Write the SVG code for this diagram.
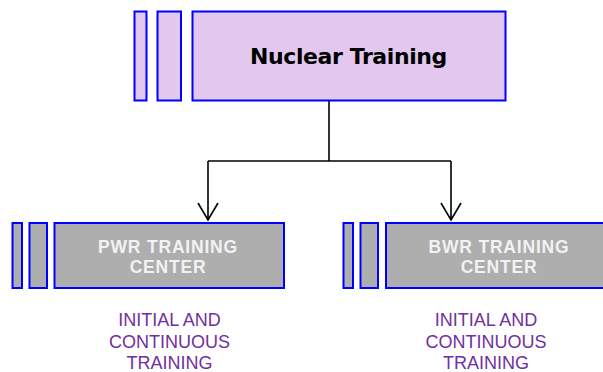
<svg xmlns="http://www.w3.org/2000/svg" width="603" height="372" viewBox="0 0 603 372">
<style>
.top{fill:#E2C8EE;stroke:#0000FF;stroke-width:2}
.sub{fill:#AEAEAE;stroke:#0000FF;stroke-width:2}
.title{font-family:"DejaVu Sans",Verdana,sans-serif;font-weight:bold;font-size:22px;fill:#000;text-anchor:middle;letter-spacing:-0.4px}
.lbl{font-family:"Liberation Sans",Arial,sans-serif;font-weight:bold;font-size:17.5px;fill:#F2F2F2;text-anchor:middle;letter-spacing:0.8px}
.note{font-family:"Liberation Sans",Arial,sans-serif;font-size:18px;fill:#7030A0;text-anchor:middle}
.conn{fill:none;stroke:#000;stroke-width:1.6}
</style>
<rect width="603" height="372" fill="#FFFFFF"/>
<g id="connectors">
<path class="conn" d="M329,101 V161" stroke-width="2"/>
<path class="conn" d="M208,161 H451"/>
<path class="conn" d="M208,161 V220 M198,203 L208,220 L218,203"/>
<path class="conn" d="M451,161 V220 M441,203 L451,220 L461,203"/>
</g>
<g id="nuclear-training">
<rect class="top" x="134.5" y="11.5" width="12" height="89"/>
<rect class="top" x="157.5" y="11.5" width="23.5" height="89"/>
<rect class="top" x="192.5" y="11.5" width="313" height="89"/>
<text class="title" x="348.5" y="64">Nuclear Training</text>
</g>
<g id="pwr-training-center">
<rect class="sub" x="12.5" y="223" width="9.5" height="65"/>
<rect class="sub" x="29.5" y="223" width="17.5" height="65"/>
<rect class="sub" x="54.5" y="223" width="229.5" height="65"/>
<text class="lbl" x="168" y="253">PWR TRAINING</text>
<text class="lbl" x="168" y="273">CENTER</text>
</g>
<g id="bwr-training-center">
<rect class="sub" x="343.5" y="223" width="9.5" height="65"/>
<rect class="sub" x="360.5" y="223" width="17.5" height="65"/>
<rect class="sub" x="386" y="223" width="226" height="65"/>
<text class="lbl" x="499" y="253">BWR TRAINING</text>
<text class="lbl" x="499" y="273">CENTER</text>
</g>
<g id="pwr-note">
<text class="note" x="169.5" y="326">INITIAL AND</text>
<text class="note" x="169.5" y="347.5">CONTINUOUS</text>
<text class="note" x="169.5" y="368.5">TRAINING</text>
</g>
<g id="bwr-note">
<text class="note" x="486" y="326">INITIAL AND</text>
<text class="note" x="486" y="347.5">CONTINUOUS</text>
<text class="note" x="486" y="368.5">TRAINING</text>
</g>
</svg>
